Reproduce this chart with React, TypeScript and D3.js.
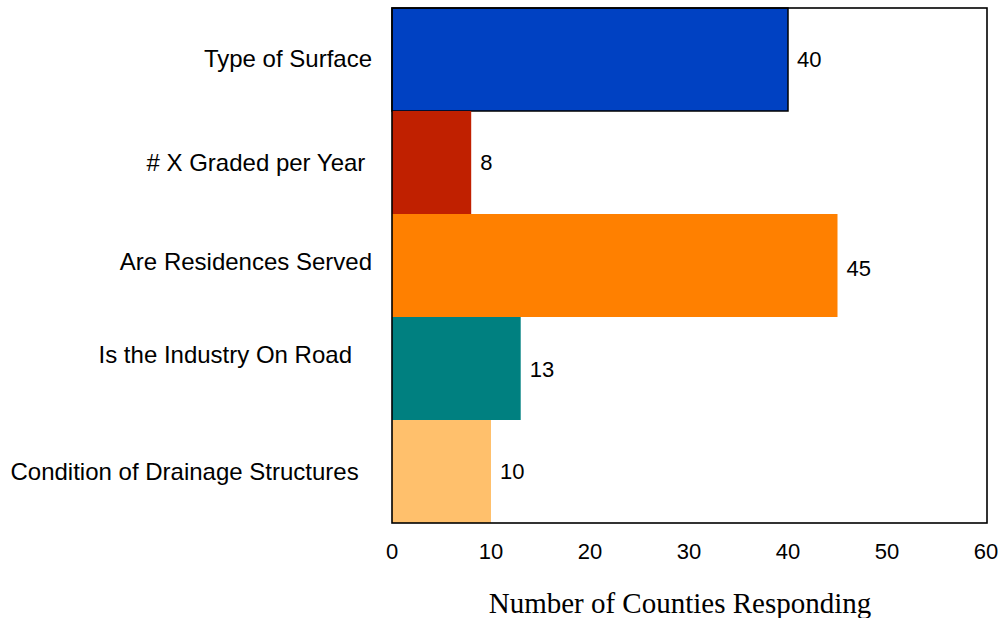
import React from "react";
import * as d3 from "d3";

const categories = [
  "Type of Surface",
  "# X Graded per Year ",
  "Are Residences Served",
  "Is the Industry On Road   ",
  "Condition of Drainage Structures  ",
];
const counts = [40, 8, 45, 13, 10];
const barColors = ["#0041C2", "#C02000", "#FF8000", "#008080", "#FFC06C"];
const xTicks = [0, 10, 20, 30, 40, 50, 60];
const xTitle = "Number of Counties Responding";

const W = 1001;
const H = 618;
const plot = { left: 392, right: 986, top: 8, bottom: 523 };
// vertical nudges (px) for the category captions, which don't sit exactly on band centres
const captionNudge = [-1, 0, -4, -14, 0];
const valueNudge = [0, 0, 3, 1, 0];

export default function App() {
  const x = d3.scaleLinear().domain([0, 60]).range([plot.left, plot.right]);
  const y = d3
    .scaleBand<string>()
    .domain(categories)
    .range([plot.top, plot.bottom])
    .padding(0);

  const sans = "'Liberation Sans', Arial, sans-serif";
  const serif = "'Liberation Serif', 'Times New Roman', serif";

  return (
    <svg
      width={W}
      height={H}
      style={{ position: "absolute", left: 0, top: 0, background: "#fff" }}
    >
      {/* bars */}
      {categories.map((c, i) => (
        <rect
          key={c}
          x={x(0)}
          y={y(c)!}
          width={x(counts[i]) - x(0)}
          height={y.bandwidth()}
          fill={barColors[i]}
          stroke={i === 0 ? "#000" : "none"}
          strokeWidth={i === 0 ? 1.5 : 0}
        />
      ))}

      {/* plot frame */}
      <rect
        x={plot.left}
        y={plot.top}
        width={plot.right + 1 - plot.left}
        height={plot.bottom - plot.top}
        fill="none"
        stroke="#000"
        strokeWidth={1.6}
      />

      {/* value labels */}
      {categories.map((c, i) => (
        <text
          key={"v" + c}
          x={x(counts[i]) + 9}
          y={y(c)! + y.bandwidth() / 2 + valueNudge[i]}
          dominantBaseline="central"
          fontFamily={sans}
          fontSize={22}
          fill="#000"
        >
          {counts[i]}
        </text>
      ))}

      {/* category labels */}
      {categories.map((c, i) => (
        <text
          key={"c" + c}
          x={372}
          y={y(c)! + y.bandwidth() / 2 + captionNudge[i]}
          dominantBaseline="central"
          textAnchor="end"
          fontFamily={sans}
          fontSize={24}
          fill="#000"
          style={{ whiteSpace: "pre" }}
        >
          {c}
        </text>
      ))}

      {/* x tick labels */}
      {xTicks.map((t) => (
        <text
          key={"t" + t}
          x={x(t)}
          y={551}
          dominantBaseline="central"
          textAnchor="middle"
          fontFamily={sans}
          fontSize={22}
          fill="#000"
        >
          {t}
        </text>
      ))}

      {/* x axis title */}
      <text
        x={680}
        y={603}
        dominantBaseline="central"
        textAnchor="middle"
        fontFamily={serif}
        fontSize={29}
        fill="#000"
      >
        {xTitle}
      </text>
    </svg>
  );
}
